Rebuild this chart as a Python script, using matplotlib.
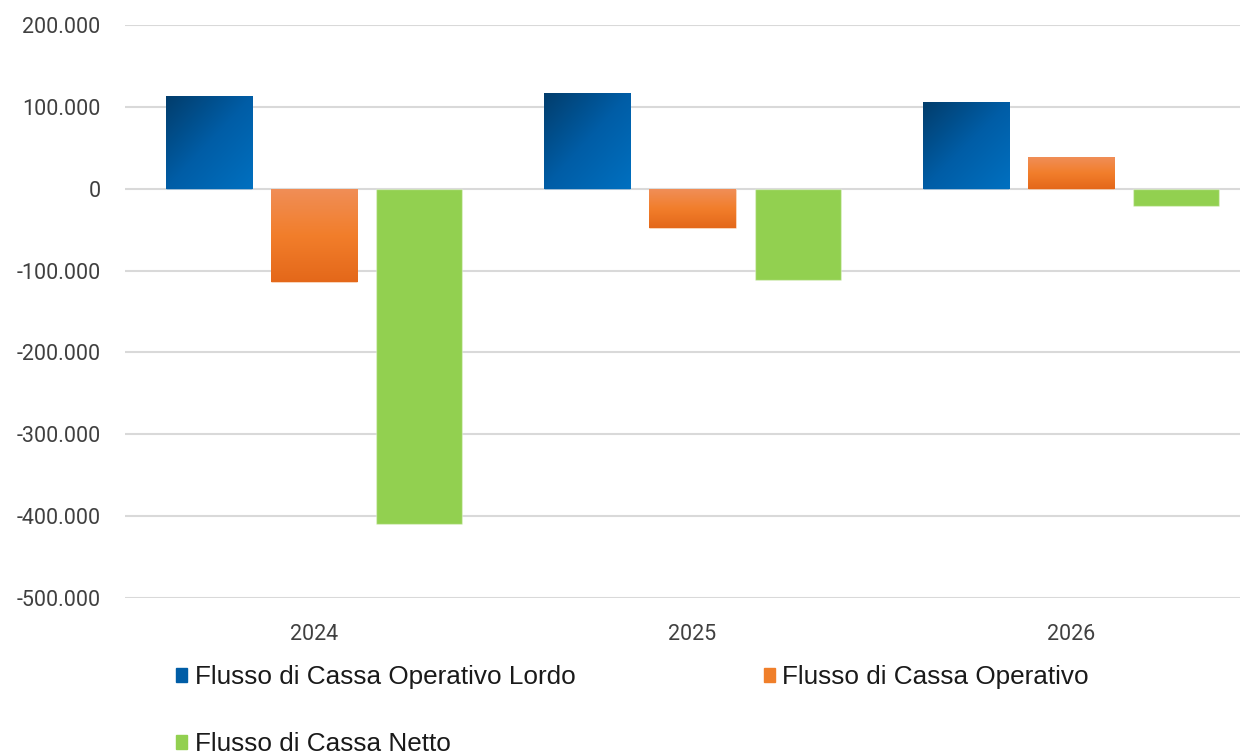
import numpy as np
import matplotlib
matplotlib.use("Agg")
import matplotlib.pyplot as plt
from matplotlib.colors import LinearSegmentedColormap
from matplotlib.patches import Rectangle
from matplotlib.ticker import FuncFormatter

# ------------------------------------------------------------------
# data
years = ["2024", "2025", "2026"]
series = ["Flusso di Cassa Operativo Lordo", "Flusso di Cassa Operativo", "Flusso di Cassa Netto"]
lordo = [113000, 117500, 106000]
operativo = [-114000, -47500, 39000]
netto = [-409000, -111000, -21000]
values = [lordo, operativo, netto]

yticks = [200000, 100000, 0, -100000, -200000, -300000, -400000, -500000]

# ------------------------------------------------------------------
# styles
BLUE_CMAP = LinearSegmentedColormap.from_list("blue", ["#023D6C", "#005DA6", "#0070C0"])
ORANGE_CMAP = LinearSegmentedColormap.from_list("orange", ["#F08E57", "#F27E2B", "#E4681A"])
GREEN = "#92D050"
TEXT = "#404040"
GRID = "#D9D9D9"


def it_fmt(v, pos):
    if v == 0:
        return "0"
    return f"{v:,.0f}".replace(",", ".")


def gradient_fill(ax, bar, cmap, diagonal=False):
    x, y = bar.get_x(), bar.get_y()
    w, h = bar.get_width(), bar.get_height()
    rows, cols = 100, 100
    r = np.linspace(0, 1, rows)[:, None]
    c = np.linspace(0, 1, cols)[None, :]
    grad = (r + c) / 2 if diagonal else np.repeat(r, cols, axis=1)
    y0, y1 = min(y, y + h), max(y, y + h)
    im = ax.imshow(grad, cmap=cmap, extent=[x, x + w, y0, y1], origin="upper",
                   aspect="auto", zorder=3, interpolation="bicubic")
    im.set_clip_path(bar)


fig = plt.figure(figsize=(12.4, 7.54), dpi=100)
ax = fig.add_axes([125 / 1240, (754 - 598) / 754, (1240 - 125) / 1240, (598 - 25) / 754])

x = np.arange(len(years))
w = 0.228
off = 0.278
colors = ["#005DA6", "#F07F2A", GREEN]
handles = []
for i, (name, vals) in enumerate(zip(series, values)):
    bars = ax.bar(x + (i - 1) * off, vals, width=w, color=colors[i],
                  edgecolor=(1, 1, 1, 0.35), linewidth=1, zorder=2, label=name)
    if i == 0:
        for b in bars:
            gradient_fill(ax, b, BLUE_CMAP, diagonal=True)
    elif i == 1:
        for b in bars:
            gradient_fill(ax, b, ORANGE_CMAP)
    handles.append(Rectangle((0, 0), 1, 1, color=colors[i]))

ax.set_xlim(-0.5, 2.5 - 20 / 378)
ax.set_ylim(-500000, 200000)
ax.set_yticks(yticks)
ax.yaxis.set_major_formatter(FuncFormatter(it_fmt))
ax.set_xticks(x)
ax.set_xticklabels(years)
ax.grid(axis="y", color=GRID, linewidth=1.5, zorder=0)
ax.set_axisbelow(True)
for s in ax.spines.values():
    s.set_visible(False)
ax.tick_params(length=0, colors=TEXT, labelsize=15.5)
ax.tick_params(axis="y", pad=17.6)
ax.tick_params(axis="x", pad=18.5)
for lab in ax.get_xticklabels() + ax.get_yticklabels():
    lab.set_fontfamily("Roboto")

# legend: row-wise order Lordo | Operativo / Netto
order = [0, 2, 1]
fig.legend([handles[k] for k in order], [series[k] for k in order],
           loc="upper left", bbox_to_anchor=(176 / 1240, 1 - 665 / 754),
           ncol=2, frameon=False, handlelength=0.42, handleheight=0.45,
           handletextpad=0.3, columnspacing=7.2, labelspacing=1.66,
           borderpad=0, borderaxespad=0,
           prop={"family": "Liberation Sans", "size": 18.8}, labelcolor="#1a1a1a")

fig.savefig("out.png", dpi=100, facecolor="white")
